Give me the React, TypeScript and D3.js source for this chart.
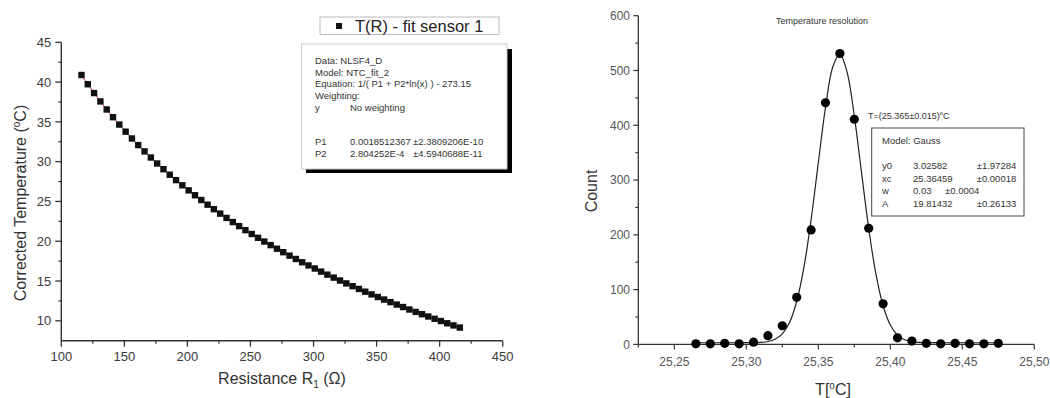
import React from 'react';
import * as d3 from 'd3';

// ---------- Left chart data ----------
const resistance = [116,121,126,131,136,141,146,151,156,161,166,171,176,181,186,191,196,201,206,211,216,221,226,231,236,241,246,251,256,261,266,271,276,281,286,291,296,301,306,311,316,321,326,331,336,341,346,351,356,361,366,371,376,381,386,391,396,401,406,411,416];
const temperature = [40.89,39.73,38.62,37.57,36.56,35.59,34.66,33.77,32.91,32.08,31.29,30.52,29.77,29.05,28.36,27.68,27.03,26.39,25.78,25.18,24.59,24.03,23.47,22.93,22.41,21.90,21.39,20.91,20.43,19.96,19.51,19.06,18.62,18.19,17.77,17.36,16.96,16.57,16.18,15.80,15.43,15.06,14.70,14.35,14.00,13.66,13.32,12.99,12.67,12.35,12.04,11.73,11.42,11.12,10.83,10.54,10.25,9.97,9.69,9.42,9.15];
const tempTicks = [10,15,20,25,30,35,40,45];
const tempMinor = [12.5,17.5,22.5,27.5,32.5,37.5,42.5];
const resTicks = [100,150,200,250,300,350,400,450];
const resMinor = [125,175,225,275,325,375,425];
const fitInfoLines = ['Data: NLSF4_D','Model: NTC_fit_2','Equation: 1/( P1 + P2*ln(x) ) - 273.15','Weighting:'];
const fitParams = [['P1','0.0018512367','±2.3809206E-10'],['P2','2.804252E-4','±4.5940688E-11']];

// ---------- Right chart data ----------
const binCenters = [25.265,25.275,25.285,25.295,25.305,25.315,25.325,25.335,25.345,25.355,25.365,25.375,25.385,25.395,25.405,25.415,25.425,25.435,25.445,25.455,25.465,25.475];
const counts = [1,1,2,1,4,16,34,86,209,441,531,411,212,74,12,6,2,1,2,1,1,2];
const fitX = [25.265,25.275,25.285,25.290,25.295,25.300,25.305,25.310,25.315,25.320,25.325,25.330,25.335,25.340,25.345,25.350,25.355,25.360,25.365,25.370,25.375,25.380,25.385,25.390,25.395,25.400,25.405,25.410,25.415,25.420,25.425,25.430,25.435,25.440,25.450,25.460,25.475];
const fitY = [3.03,3.03,3.03,3.03,3.04,3.08,3.22,3.73,5.26,9.38,19.22,39.93,78.33,140.50,227.63,331.41,432.60,505.91,529.82,496.83,417.23,313.94,211.85,128.54,70.52,35.51,17.02,8.42,4.89,3.60,3.19,3.07,3.03,3.03,3.03,3.03,3.03];
const countTicks = [0,100,200,300,400,500,600];
const countMinor = [50,150,250,350,450,550];
const tTicks = [25.25,25.30,25.35,25.40,25.45,25.50];
const tMinor = [25.225,25.275,25.325,25.375,25.425,25.475];
const gaussParams = [['y0','3.02582','±1.97284'],['xc','25.36459','±0.00018'],['w','0.03','±0.0004'],['A','19.81432','±0.26133']];

const FONT = '"Liberation Sans", Arial, sans-serif';

export default function App() {
  // Left scales
  const xL = d3.scaleLinear().domain([100, 450]).range([61.3, 502.7]);
  const yL = d3.scaleLinear().domain([7.5, 45]).range([340.7, 42.3]);
  // Right scales
  const xR = d3.scaleLinear().domain([25.225, 25.5]).range([638.3, 1034.3]);
  const yR = d3.scaleLinear().domain([0, 600]).range([344.4, 15.7]);

  const lineL = d3.line<number>().x((_, i) => xL(resistance[i])).y((d) => yL(d));
  const lineR = d3.line<number>().x((_, i) => xR(fitX[i])).y((d) => yR(d)).curve(d3.curveCatmullRom);

  const axisColL = '#333';
  const tickTxtL = '#3a3a3a';
  const axisColR = '#333';
  const tickTxtR = '#555';

  return (
    <svg width={1050} height={398} style={{ position: 'absolute', left: 0, top: 0, background: '#fff' }} fontFamily={FONT}>
      <rect x={0} y={0} width={1050} height={398} fill="#fff" />
      {/* ================= LEFT CHART ================= */}
      <g>
        {/* axes */}
        <line x1={xL(100)} x2={xL(100)} y1={yL(45)} y2={yL(7.5)} stroke={axisColL} strokeWidth={1.4} />
        <line x1={xL(100)} x2={xL(450)} y1={yL(7.5)} y2={yL(7.5)} stroke={axisColL} strokeWidth={1.4} />
        {tempTicks.map((t) => (
          <g key={'yt' + t}>
            <line x1={xL(100) - 6} x2={xL(100)} y1={yL(t)} y2={yL(t)} stroke={axisColL} strokeWidth={1.3} />
            <text x={xL(100) - 10} y={yL(t)} dy="0.36em" textAnchor="end" fontSize={13} fill={tickTxtL}>{t}</text>
          </g>
        ))}
        {tempMinor.map((t) => (
          <line key={'ym' + t} x1={xL(100) - 3} x2={xL(100)} y1={yL(t)} y2={yL(t)} stroke={axisColL} strokeWidth={1.2} />
        ))}
        {resTicks.map((t) => (
          <g key={'xt' + t}>
            <line x1={xL(t)} x2={xL(t)} y1={yL(7.5)} y2={yL(7.5) + 6} stroke={axisColL} strokeWidth={1.3} />
            <text x={xL(t)} y={361} textAnchor="middle" fontSize={13} fill={tickTxtL}>{t}</text>
          </g>
        ))}
        {resMinor.map((t) => (
          <line key={'xm' + t} x1={xL(t)} x2={xL(t)} y1={yL(7.5)} y2={yL(7.5) + 3} stroke={axisColL} strokeWidth={1.2} />
        ))}
        {/* axis titles */}
        <text x={282} y={384} textAnchor="middle" fontSize={16} fill="#333">
          Resistance R<tspan fontSize={10} dy={4}>1</tspan><tspan dy={-4}> (Ω)</tspan>
        </text>
        <text transform="translate(26,203) rotate(-90)" textAnchor="middle" fontSize={16} fill="#333">
          Corrected Temperature (<tspan fontSize={10} dy={-6}>o</tspan><tspan dy={6}>C)</tspan>
        </text>
        {/* data */}
        <path d={lineL(temperature) || ''} fill="none" stroke="#c0392b" strokeWidth={1} />
        {temperature.map((t, i) => (
          <rect key={'p' + i} x={xL(resistance[i]) - 3.2} y={yL(t) - 3.2} width={6.4} height={6.4} fill="#111" />
        ))}
        {/* legend */}
        <rect x={320} y={17} width={179} height={17.5} fill="#fff" stroke="#bbb" strokeWidth={1} />
        <rect x={336} y={23} width={6} height={6} fill="#111" />
        <text x={355} y={32} fontSize={16.5} fill="#222">T(R) - fit sensor 1</text>
        {/* fit info box */}
        <rect x={306} y={49} width={206} height={124} fill="#000" />
        <rect x={301.5} y={44} width={205.5} height={125} fill="#fff" stroke="#ccc" strokeWidth={1} />
        {fitInfoLines.map((s, i) => (
          <text key={'fl' + i} x={315} y={64 + i * 11.7} fontSize={9.5} fill="#333">{s}</text>
        ))}
        <text x={315} y={110.5} fontSize={9.5} fill="#333">y</text>
        <text x={350} y={110.5} fontSize={9.5} fill="#333">No weighting</text>
        {fitParams.map((p, i) => (
          <g key={'fp' + i}>
            <text x={315} y={144.5 + i * 12} fontSize={9.5} fill="#333">{p[0]}</text>
            <text x={350} y={144.5 + i * 12} fontSize={9.5} fill="#333">{p[1]}</text>
            <text x={413} y={144.5 + i * 12} fontSize={9.5} fill="#333">{p[2]}</text>
          </g>
        ))}
      </g>

      {/* ================= RIGHT CHART ================= */}
      <g>
        <line x1={xR(25.225)} x2={xR(25.225)} y1={yR(600)} y2={yR(0)} stroke={axisColR} strokeWidth={1.3} />
        <line x1={xR(25.225)} x2={xR(25.5)} y1={yR(0)} y2={yR(0)} stroke={axisColR} strokeWidth={1.3} />
        {countTicks.map((t) => (
          <g key={'cy' + t}>
            <line x1={xR(25.225) - 5} x2={xR(25.225)} y1={yR(t)} y2={yR(t)} stroke={axisColR} strokeWidth={1.2} />
            <text x={630} y={yR(t)} dy="0.36em" textAnchor="end" fontSize={12} fill={tickTxtR}>{t}</text>
          </g>
        ))}
        {countMinor.map((t) => (
          <line key={'cm' + t} x1={xR(25.225) - 3} x2={xR(25.225)} y1={yR(t)} y2={yR(t)} stroke={axisColR} strokeWidth={1.1} />
        ))}
        {tTicks.map((t) => (
          <g key={'tx' + t}>
            <line x1={xR(t)} x2={xR(t)} y1={yR(0)} y2={yR(0) + 5} stroke={axisColR} strokeWidth={1.2} />
            <text x={xR(t)} y={366} textAnchor="middle" fontSize={12} fill={tickTxtR}>{t.toFixed(2).replace('.', ',')}</text>
          </g>
        ))}
        {tMinor.map((t) => (
          <line key={'tm' + t} x1={xR(t)} x2={xR(t)} y1={yR(0)} y2={yR(0) + 3} stroke={axisColR} strokeWidth={1.1} />
        ))}
        <text transform="translate(597,191) rotate(-90)" textAnchor="middle" fontSize={16} fill="#333">Count</text>
        <text x={833} y={395} textAnchor="middle" fontSize={16} fill="#333">
          T[<tspan fontSize={10} dy={-6}>o</tspan><tspan dy={6}>C]</tspan>
        </text>
        <text x={822} y={24} textAnchor="middle" fontSize={9} fill="#333">Temperature resolution</text>
        {/* fit curve */}
        <path d={lineR(fitY) || ''} fill="none" stroke="#222" strokeWidth={1.2} />
        {counts.map((c, i) => (
          <circle key={'c' + i} cx={xR(binCenters[i])} cy={yR(c)} r={4.6} fill="#000" />
        ))}
        {/* annotation */}
        <text x={868} y={119} fontSize={9} fill="#333">
          T=(25.365±0.015)<tspan fontSize={6} dy={-4}>o</tspan><tspan dy={4}>C</tspan>
        </text>
        <rect x={871.7} y={128} width={152.3} height={88} fill="#fff" stroke="#444" strokeWidth={1} />
        <text x={882} y={144} fontSize={9.5} fill="#333">Model: Gauss</text>
        {gaussParams.map((p, i) => (
          <g key={'gp' + i}>
            <text x={882} y={169 + i * 12.6} fontSize={9.5} fill="#333">{p[0]}</text>
            <text x={913} y={169 + i * 12.6} fontSize={9.5} fill="#333">{p[1]}</text>
            <text x={p[0] === 'w' ? 945 : 976.7} y={169 + i * 12.6} fontSize={9.5} fill="#333">{p[2]}</text>
          </g>
        ))}
      </g>
    </svg>
  );
}
